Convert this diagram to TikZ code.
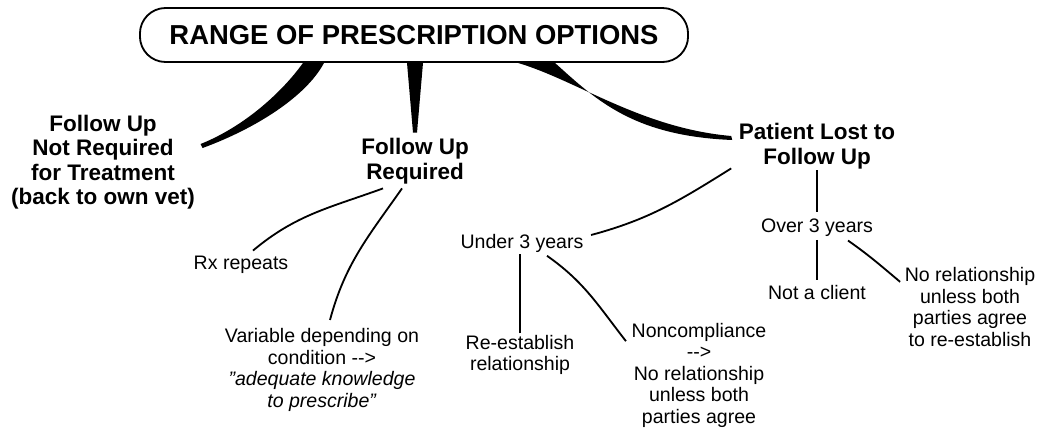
\documentclass[tikz,border=0pt]{standalone}
\usepackage{fontspec}
\setmainfont{Liberation Sans}
\usetikzlibrary{calc}

\tikzset{
    titlebox/.style={draw, line width=1.3pt, rounded corners=0.64cm,
        minimum width=13.7cm, minimum height=1.35cm,
        font=\fontsize{19.5}{22}\selectfont\bfseries},
    head/.style={align=center, inner sep=1pt,
        font=\fontsize{16}{17.4}\selectfont\bfseries},
    leaf/.style={align=center, inner sep=1pt,
        font=\fontsize{13.9}{15.3}\selectfont},
    link/.style={line width=1.3pt},
    branch/.style={fill=black}
}

\begin{document}
\begin{tikzpicture}[x=0.025cm, y=-0.025cm]
    \useasboundingbox (0,0) rectangle (1037,429);

    \node[titlebox] (range) at (414,35) {RANGE OF PRESCRIPTION OPTIONS};

    \node[head] (notreq) at (103,162) {Follow Up\\Not Required\\for Treatment\\(back to own vet)};
    \node[head] (req) at (415,161) {Follow Up\\Required};
    \node[head] (lost) at (817,146) {Patient Lost to\\Follow Up};

    \node[leaf] (rx) at (241,265) {Rx repeats};
    \node[leaf] (var) at (322,370) {Variable depending on\\condition {-}{-}>\\\textit{\char"22 adequate knowledge}\\\textit{to prescribe\char"22}};
    \node[leaf] (under) at (522,243) {Under 3 years};
    \node[leaf] (reest) at (520,355) {Re-establish\\relationship};
    \node[leaf] (noncomp) at (699,375) {Noncompliance\\{-}{-}>\\No relationship\\unless both\\parties agree};
    \node[leaf] (over) at (817,228) {Over 3 years};
    \node[leaf] (client) at (817,293) {Not a client};
    \node[leaf] (norel) at (970,307) {No relationship\\unless both\\parties agree\\to re-establish};

    \fill[branch] ($(range.south)+(-111,0)$) .. controls +(-20,28) and +(45,-18) .. ($(notreq.east)+(4,-18)$)
        -- ++(2,4) .. controls +(52,-19) and +(-18,34) .. ($(range.south)+(-90,0)$) -- cycle;
    \fill[branch] ($(range.south)+(-7,0)$) -- ($(req.north)+(-2,-4)$)
        -- ++(4,0) -- ($(range.south)+(9,0)$) -- cycle;
    \fill[branch] ($(range.south)+(104,0)$) .. controls +(60,18) and +(-90,-8) .. ($(lost.west)+(-6,-10)$)
        -- ++(1,4) .. controls +(-98,-4) and +(42,38) .. ($(range.south)+(141,0)$) -- cycle;

    \draw[link] ($(req.south)+(-32,3)$) to[out=200,in=40] ($(rx.north)+(12,-4)$);
    \draw[link] ($(req.south)+(-13,3)$) to[out=235,in=75] ($(var.north)+(8,-7)$);
    \draw[link] ($(lost.south west)+(-6,-2)$) to[out=212,in=15] ($(under.east)+(6,-8)$);
    \draw[link] (reest.north) -- (reest.north |- under.south);
    \draw[link] ($(under.south)+(25,2)$) to[out=-35,in=128] ($(noncomp.north west)+(-4,20)$);
    \draw[link, shorten >=4pt] (lost.south) -- (over.north);
    \draw[link, shorten <=1pt, shorten >=3pt] (over.south) -- (client.north);
    \draw[link] ($(over.south)+(31,2)$) to[out=-35,in=140] ($(norel.north west)+(-3,16)$);
\end{tikzpicture}
\end{document}
